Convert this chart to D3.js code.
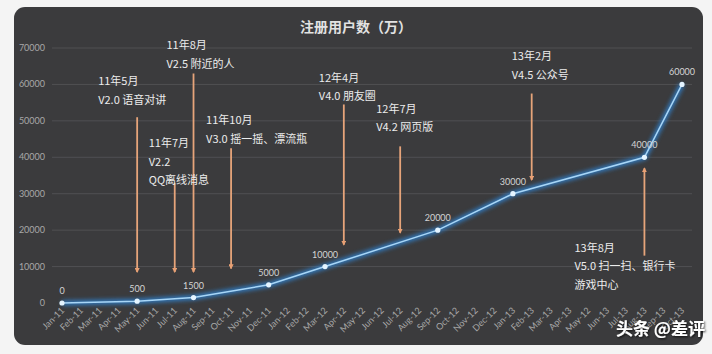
<!DOCTYPE html>
<html>
<head>
<meta charset="utf-8">
<script src="https://cdn.jsdelivr.net/npm/d3@7"></script>
<style>
  body { margin: 0; background: #f4f4f4; }
  svg { display: block; font-family: "Noto Sans CJK SC", "Noto Sans", sans-serif; }
</style>
</head>
<body>
<div id="chart"></div>
<script>
// month categories (x axis)
const months = ['Jan-11','Feb-11','Mar-11','Apr-11','May-11','Jun-11','Jul-11','Aug-11','Sep-11','Oct-11','Nov-11','Dec-11',
  'Jan-12','Feb-12','Mar-12','Apr-12','May-12','Jun-12','Jul-12','Aug-12','Sep-12','Oct-12','Nov-12','Dec-12',
  'Jan-13','Feb-13','Mar-13','Apr-13','May-13','Jun-13','Jul-13','Aug-13','Sep-13','Oct-13']
// the source labels May-13 as "May-12"
const monthLabels = months.map(m => m === 'May-13' ? 'May-12' : m)

// registered users (万)
const pointMonths = ['Jan-11','May-11','Aug-11','Dec-11','Mar-12','Sep-12','Jan-13','Aug-13','Oct-13']
const pointValues = [0, 500, 1500, 5000, 10000, 20000, 30000, 40000, 60000]

const yTicks = [0, 10000, 20000, 30000, 40000, 50000, 60000, 70000]

// version milestones: month, arrow start value, arrow end value, label lines
const eventMonths = ['May-11','Jul-11','Aug-11','Oct-11','Apr-12','Jul-12','Feb-13','Aug-13']
const eventFrom = [51000, 33000, 63000, 42500, 54500, 43000, 57500, 13000]
const eventTo = [8500, 8500, 8500, 9500, 16000, 19300, 33800, 37000]
const eventText = [
  ['11年5月', 'V2.0 语音对讲'],
  ['11年7月', 'V2.2', 'QQ离线消息'],
  ['11年8月', 'V2.5 附近的人'],
  ['11年10月', 'V3.0 摇一摇、漂流瓶'],
  ['12年4月', 'V4.0 朋友圈'],
  ['12年7月', 'V4.2 网页版'],
  ['13年2月', 'V4.5 公众号'],
  ['13年8月', 'V5.0 扫一扫、银行卡', '游戏中心']
]
// label placement: value of first text line, pixel shift left of the arrow
const eventLabelAt = [60900, 43900, 70800, 50200, 61800, 53300, 67800, 15100]
const eventLabelDx = [39, 26, 27, 25, 25, 24, 20, 70]

const width = 712
const height = 354

const x = d3.scalePoint().domain(months).range([62, 682])
const y = d3.scaleLinear().domain([0, 70000]).range([303, 48])

const $svg = d3.select('#chart').append('svg')
  .attr('width', width)
  .attr('height', height)

const defs = $svg.append('defs')
const glow = defs.append('filter').attr('id', 'glow')
  .attr('x', '-20%').attr('y', '-20%').attr('width', '140%').attr('height', '140%')
glow.append('feGaussianBlur').attr('stdDeviation', 2.2)

const soft = defs.append('filter').attr('id', 'soft')
  .attr('x', '-200%').attr('width', '500%')
soft.append('feGaussianBlur').attr('stdDeviation', 0.7)

defs.append('marker')
  .attr('id', 'head')
  .attr('viewBox', '0 0 10 10')
  .attr('refX', 8).attr('refY', 5)
  .attr('markerWidth', 2.8).attr('markerHeight', 2.8)
  .attr('orient', 'auto')
  .append('path')
  .attr('d', 'M0,0 L10,5 L0,10 Z')
  .attr('fill', '#e8a074')

const shadow = defs.append('filter').attr('id', 'shadow')
shadow.append('feDropShadow').attr('dx', 1).attr('dy', 1).attr('stdDeviation', 1)
  .attr('flood-color', '#000').attr('flood-opacity', 0.8)

// panel
$svg.append('rect')
  .attr('x', 14).attr('y', 7)
  .attr('width', 689).attr('height', 338)
  .attr('rx', 11)
  .attr('fill', '#3b3b3d')

// title
$svg.append('text')
  .attr('x', 356).attr('y', 32)
  .attr('text-anchor', 'middle')
  .attr('fill', '#e2e2e2')
  .attr('font-size', 14)
  .attr('font-weight', 'bold')
  .text('注册用户数（万）')

// grid + y labels
const $grid = $svg.append('g')
$grid.selectAll('line')
  .data(yTicks.filter(d => d > 0))
  .enter().append('line')
  .attr('x1', 52).attr('x2', 692)
  .attr('y1', d => y(d)).attr('y2', d => y(d))
  .attr('stroke', '#505053')
  .attr('stroke-width', 1)

$grid.selectAll('text')
  .data(yTicks)
  .enter().append('text')
  .attr('x', 45)
  .attr('y', d => y(d) + 3)
  .attr('text-anchor', 'end')
  .attr('fill', '#a8a8a8')
  .attr('font-size', 9)
  .attr('font-family', 'Lato, sans-serif')
  .text(d => d)

// x labels
$svg.append('g').selectAll('text')
  .data(months)
  .enter().append('text')
  .attr('transform', d => `translate(${x(d) + 3},${311}) rotate(-45)`)
  .attr('text-anchor', 'end')
  .attr('fill', '#a8a8a8')
  .attr('font-size', 9)
  .attr('font-family', 'Lato, sans-serif')
  .text((d, i) => monthLabels[i])

// event arrows
const events = eventMonths.map((m, i) => ({
  month: m, from: eventFrom[i], to: eventTo[i], lines: eventText[i],
  labelAt: eventLabelAt[i], dx: eventLabelDx[i]
}))

const $events = $svg.append('g')
$events.selectAll('line.glow')
  .data(events)
  .enter().append('line')
  .attr('class', 'glow')
  .attr('x1', d => x(d.month)).attr('x2', d => x(d.month))
  .attr('y1', d => y(d.from)).attr('y2', d => y(d.to))
  .attr('stroke', '#a9643a')
  .attr('stroke-width', 4)
  .attr('opacity', 0.75)
  .attr('filter', 'url(#soft)')

$events.selectAll('line.arrow')
  .data(events)
  .enter().append('line')
  .attr('class', 'arrow')
  .attr('x1', d => x(d.month)).attr('x2', d => x(d.month))
  .attr('y1', d => y(d.from)).attr('y2', d => y(d.to))
  .attr('stroke', '#e6a47a')
  .attr('stroke-width', 1.8)
  .attr('marker-end', 'url(#head)')

const $labels = $events.selectAll('g.label')
  .data(events)
  .enter().append('g')
  .attr('class', 'label')
  .attr('transform', d => `translate(${x(d.month) - d.dx},${y(d.labelAt) + 4})`)

$labels.selectAll('text')
  .data(d => d.lines)
  .enter().append('text')
  .attr('y', (d, i) => i * 18.5)
  .attr('fill', '#ececec')
  .attr('font-size', 11)
  .text(d => d)

// data line with glow
const points = pointMonths.map((m, i) => ({ month: m, value: pointValues[i] }))
const line = d3.line().x(d => x(d.month)).y(d => y(d.value))

$svg.append('path')
  .datum(points)
  .attr('d', line)
  .attr('fill', 'none')
  .attr('stroke', '#2f86d8')
  .attr('stroke-width', 5)
  .attr('opacity', 0.85)
  .attr('filter', 'url(#glow)')

$svg.append('path')
  .datum(points)
  .attr('d', line)
  .attr('fill', 'none')
  .attr('stroke', '#a8d6f7')
  .attr('stroke-width', 1.5)

$svg.append('g').selectAll('circle')
  .data(points)
  .enter().append('circle')
  .attr('cx', d => x(d.month))
  .attr('cy', d => y(d.value))
  .attr('r', 2.6)
  .attr('fill', '#e4f4ff')

$svg.append('g').selectAll('text')
  .data(points)
  .enter().append('text')
  .attr('x', d => x(d.month))
  .attr('y', d => y(d.value) - 9)
  .attr('text-anchor', 'middle')
  .attr('fill', '#d4d4d4')
  .attr('font-size', 9)
  .attr('font-family', 'Lato, sans-serif')
  .text(d => d.value)

// watermark
$svg.append('text')
  .attr('x', 705).attr('y', 335)
  .attr('text-anchor', 'end')
  .attr('fill', '#ffffff')
  .attr('font-size', 17)
  .attr('font-weight', 'bold')
  .attr('filter', 'url(#shadow)')
  .text('头条 @差评')
</script>
</body>
</html>
